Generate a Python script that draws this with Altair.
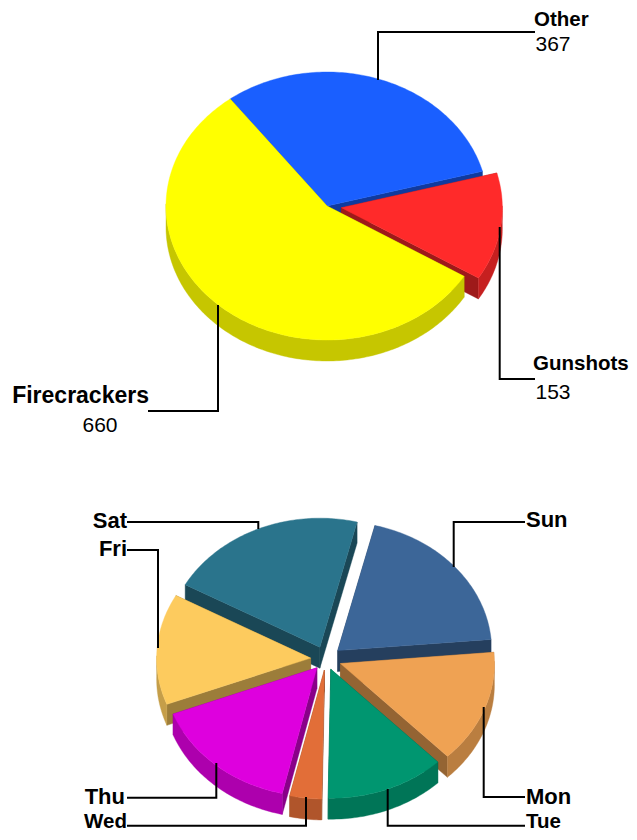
import math
import altair as alt

W, H = 621, 824
ORIGIN = 8
TILT_DEPTH = 21
OUTER_SHADE = 0.78
CUT_SHADE = 0.62

# Pie 1
p1_names = ["Other", "Gunshots", "Firecrackers"]
p1_values = [367, 153, 660]
p1_colors = ["#1A5FFF", "#FF2A2A", "#FFFF00"]
p1_explode = [0.0, 0.09, 0.0]
p1_start = 127.0
p1_center = (327, 206)
p1_radii = (161, 134)

# Pie 2 (values read as slice angles)
p2_names = ["Sun", "Mon", "Tue", "Wed", "Thu", "Fri", "Sat"]
p2_values = [71, 51, 45, 12, 56, 50, 75]
p2_colors = ["#3C6698", "#EFA253", "#009670", "#E26E38", "#DE00DE", "#FDCB5E", "#2A748C"]
p2_explode = [0.10, 0.10, 0.085, 0.086, 0.09, 0.10, 0.10]
p2_start = 76.0
p2_center = (326, 659)
p2_radii = (154, 129)


def shade(color, k):
    r, g, b = (int(color[i:i + 2], 16) for i in (1, 3, 5))
    return "#%02X%02X%02X" % (int(r * k), int(g * k), int(b * k))


def feature(points, color):
    ring = [list(p) for p in points] + [list(points[0])]
    return {"type": "Feature", "properties": {"color": color},
            "geometry": {"type": "Polygon", "coordinates": [ring]}}


def pie_features(values, colors, explode, start, center, radii):
    cx, cy = center
    rx, ry = radii
    total = sum(values)
    slices = []
    a = start
    for v, c, e in zip(values, colors, explode):
        span = 360.0 * v / total
        slices.append((a, a - span, c, e))
        a -= span
    slices.sort(key=lambda s: -math.sin(math.radians((s[0] + s[1]) / 2)))
    feats = []
    for a0, a1, color, e in slices:
        mid = math.radians((a0 + a1) / 2)
        ox = cx + e * rx * math.cos(mid)
        oy = cy - e * ry * math.sin(mid)
        n = max(8, int(abs(a0 - a1)))
        angs = [math.radians(a0 + (a1 - a0) * i / n) for i in range(n + 1)]
        arc = [(ox + rx * math.cos(t), oy - ry * math.sin(t)) for t in angs]
        for ex, ey in (arc[0], arc[-1]):
            feats.append(feature([(ox, oy), (ex, ey), (ex, ey + TILT_DEPTH), (ox, oy + TILT_DEPTH)],
                                 shade(color, CUT_SHADE)))
        low = [p for p, t in zip(arc, angs) if math.sin(t) <= 0.02]
        if len(low) > 1:
            feats.append(feature(low + [(x, y + TILT_DEPTH) for x, y in reversed(low)],
                                 shade(color, OUTER_SHADE)))
        feats.append(feature([(ox, oy)] + arc, color))
    return feats


features = (pie_features(p1_values, p1_colors, p1_explode, p1_start, p1_center, p1_radii)
            + pie_features(p2_values, p2_colors, p2_explode, p2_start, p2_center, p2_radii))

# Leader lines
leaders = {
    "Other": ([378, 378, 535], [80, 32, 32]),
    "Gunshots": ([499.7, 499.7, 535], [227, 379, 379]),
    "Firecrackers": ([218, 218, 148], [305, 411, 411]),
    "Sat": ([258.3, 258.3, 127], [529, 522, 522]),
    "Fri": ([158, 158, 127], [648, 550, 550]),
    "Sun": ([453.7, 453.7, 525], [567, 522, 522]),
    "Mon": ([483.7, 483.7, 525], [707, 797, 797]),
    "Tue": ([387.7, 387.7, 525], [789, 825.7, 825.7]),
    "Wed": ([306, 306, 127], [797, 825.7, 825.7]),
    "Thu": ([216.3, 216.3, 127], [763, 797.7, 797.7]),
}
line_rows = [{"name": k, "i": i, "x": x, "y": y}
             for k, (xs, ys) in leaders.items() for i, (x, y) in enumerate(zip(xs, ys))]

# Labels
name_labels = ["Other", "Gunshots", "Firecrackers", "Sat", "Fri", "Sun", "Mon", "Tue", "Wed", "Thu"]
name_x = [534, 533, 149, 127, 127, 526, 526, 526, 127, 125]
name_y = [20, 364, 396, 521, 549, 520, 797, 822, 822, 796.5]
name_align = ["left", "left", "right", "right", "right", "left", "left", "left", "right", "right"]
name_size = [20.5, 20.5, 23, 22, 22, 22, 22, 20.5, 20.5, 22]
name_rows = [dict(t=t, x=x, y=y, a=a, s=s)
             for t, x, y, a, s in zip(name_labels, name_x, name_y, name_align, name_size)]

value_labels = ["367", "153", "660"]
value_x = [553, 553, 100]
value_y = [45, 393, 425.5]
value_rows = [dict(t=t, x=x, y=y) for t, x, y in zip(value_labels, value_x, value_y)]

xs = alt.Scale(domain=[ORIGIN, ORIGIN + W], range=[0, W])
ys = alt.Scale(domain=[ORIGIN, ORIGIN + H], range=[0, H])
X = alt.X("x:Q", scale=xs, axis=None)
Y = alt.Y("y:Q", scale=ys, axis=None)

pies = (
    alt.Chart(alt.Data(values=features))
    .mark_geoshape(strokeWidth=0.4)
    .encode(
        color=alt.Color("properties.color:N", scale=None, legend=None),
        stroke=alt.Stroke("properties.color:N", scale=None, legend=None),
    )
    .project(type="identity", scale=1, translate=[-ORIGIN, -ORIGIN])
)

lines = (
    alt.Chart(alt.Data(values=line_rows))
    .mark_line(color="black", strokeWidth=2, strokeJoin="miter", clip=False)
    .encode(x=X, y=Y, detail="name:N", order="i:Q")
)


def name_layer(align):
    return (
        alt.Chart(alt.Data(values=[r for r in name_rows if r["a"] == align]))
        .mark_text(align=align, baseline="middle", color="black",
                   font="Liberation Sans", fontWeight="bold")
        .encode(x=X, y=Y, text="t:N", size=alt.Size("s:Q", scale=None, legend=None))
    )


values = (
    alt.Chart(alt.Data(values=value_rows))
    .mark_text(align="center", baseline="middle", color="black",
               font="Liberation Sans", fontSize=21)
    .encode(x=X, y=Y, text="t:N")
)

chart = (
    alt.layer(pies, lines, name_layer("left"), name_layer("right"), values)
    .properties(width=W, height=H, padding=0, autosize="none", background="white")
    .configure_view(stroke=None)
)

chart.save("out.html", embed_options={"renderer": "svg", "actions": False})
